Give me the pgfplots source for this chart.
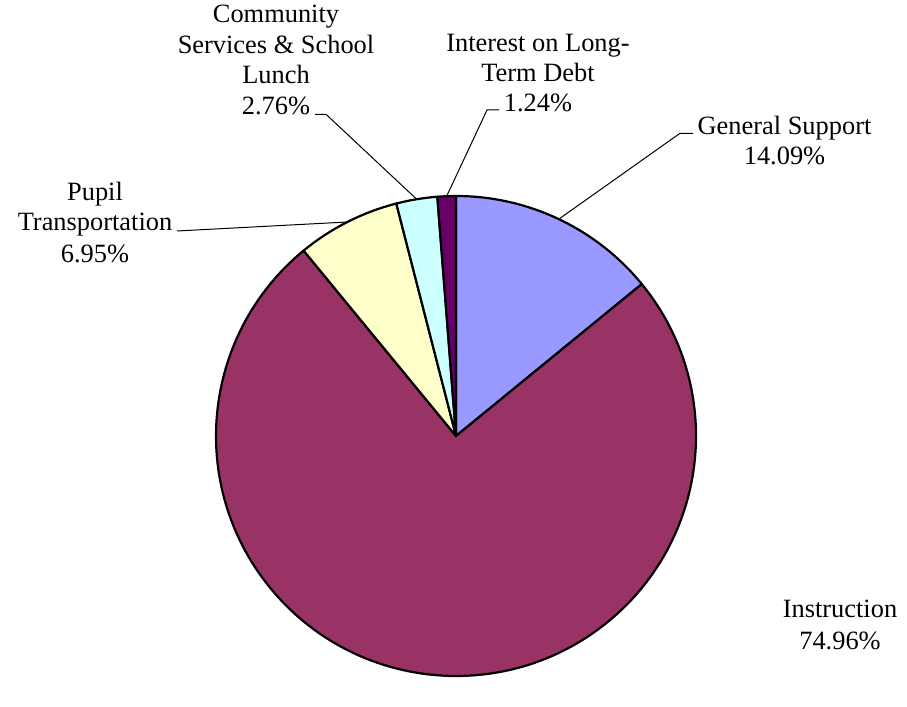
\documentclass[border=0pt]{standalone}
\usepackage{pgfplots}
\pgfplotsset{compat=1.18}
\usetikzlibrary{calc}
\usepackage{fontspec}
\setmainfont{Liberation Serif}
\definecolor{gensup}{HTML}{9999FF}
\definecolor{instr}{HTML}{993366}
\definecolor{pupil}{HTML}{FFFFCC}
\definecolor{comm}{HTML}{CCFFFF}
\definecolor{interest}{HTML}{660066}
\begin{document}
\fontsize{26.4}{30.5}\selectfont
\begin{tikzpicture}
\begin{axis}[width=907pt,height=688pt,scale only axis,
  xmin=0,xmax=907,ymin=0,ymax=688,hide axis,clip=false]
\path (axis cs:0,0) rectangle (axis cs:907,688);
% slices: percentage / colour, clockwise from 12 o'clock
\gdef\cumul{90}
\foreach \v/\c in {14.09/gensup, 74.96/instr, 6.95/pupil, 2.76/comm, 1.24/interest} {
  \pgfmathsetmacro\endang{\cumul-3.6*\v}
  \edef\cmd{\noexpand\filldraw[fill=\c,draw=black,line width=2.2pt,line join=round]
    (axis cs:456,252) -- ++(\cumul:240pt) arc[start angle=\cumul,end angle=\endang,radius=240pt] -- cycle;}
  \cmd
  \xdef\cumul{\endang}
}
% leader lines
\draw[line width=1pt] (axis cs:315,573.7) -- (axis cs:326,573.7) -- ($(axis cs:456,252)+(99.43:240pt)$);
\draw[line width=1pt] (axis cs:499,578) -- (axis cs:487,578) -- ($(axis cs:456,252)+(92.23:240pt)$);
\draw[line width=1pt] (axis cs:693,554.7) -- (axis cs:680,554.7) -- ($(axis cs:456,252)+(64.64:240pt)$);
\draw[line width=1pt] (axis cs:177,457) -- ($(axis cs:456,252)+(116.91:240pt)$);
% labels
\tikzset{lab/.style={anchor=base,inner sep=0pt,font=\fontsize{26.4}{30.5}\selectfont}}
\node[lab] at (axis cs:276,665) {Community};
\node[lab] at (axis cs:276,634.5) {Services \& School};
\node[lab] at (axis cs:276,604) {Lunch};
\node[lab] at (axis cs:276,573.5) {2.76\%};
\node[lab] at (axis cs:538,636.5) {Interest on Long-};
\node[lab] at (axis cs:538,606.5) {Term Debt};
\node[lab] at (axis cs:538,576.5) {1.24\%};
\node[lab] at (axis cs:784.5,553.5) {General Support};
\node[lab] at (axis cs:784.5,523.5) {14.09\%};
\node[lab] at (axis cs:95,487.2) {Pupil};
\node[lab] at (axis cs:95,457) {Transportation};
\node[lab] at (axis cs:95,425.5) {6.95\%};
\node[lab] at (axis cs:840,70.5) {Instruction};
\node[lab] at (axis cs:840,39) {74.96\%};
\end{axis}
\end{tikzpicture}
\end{document}
